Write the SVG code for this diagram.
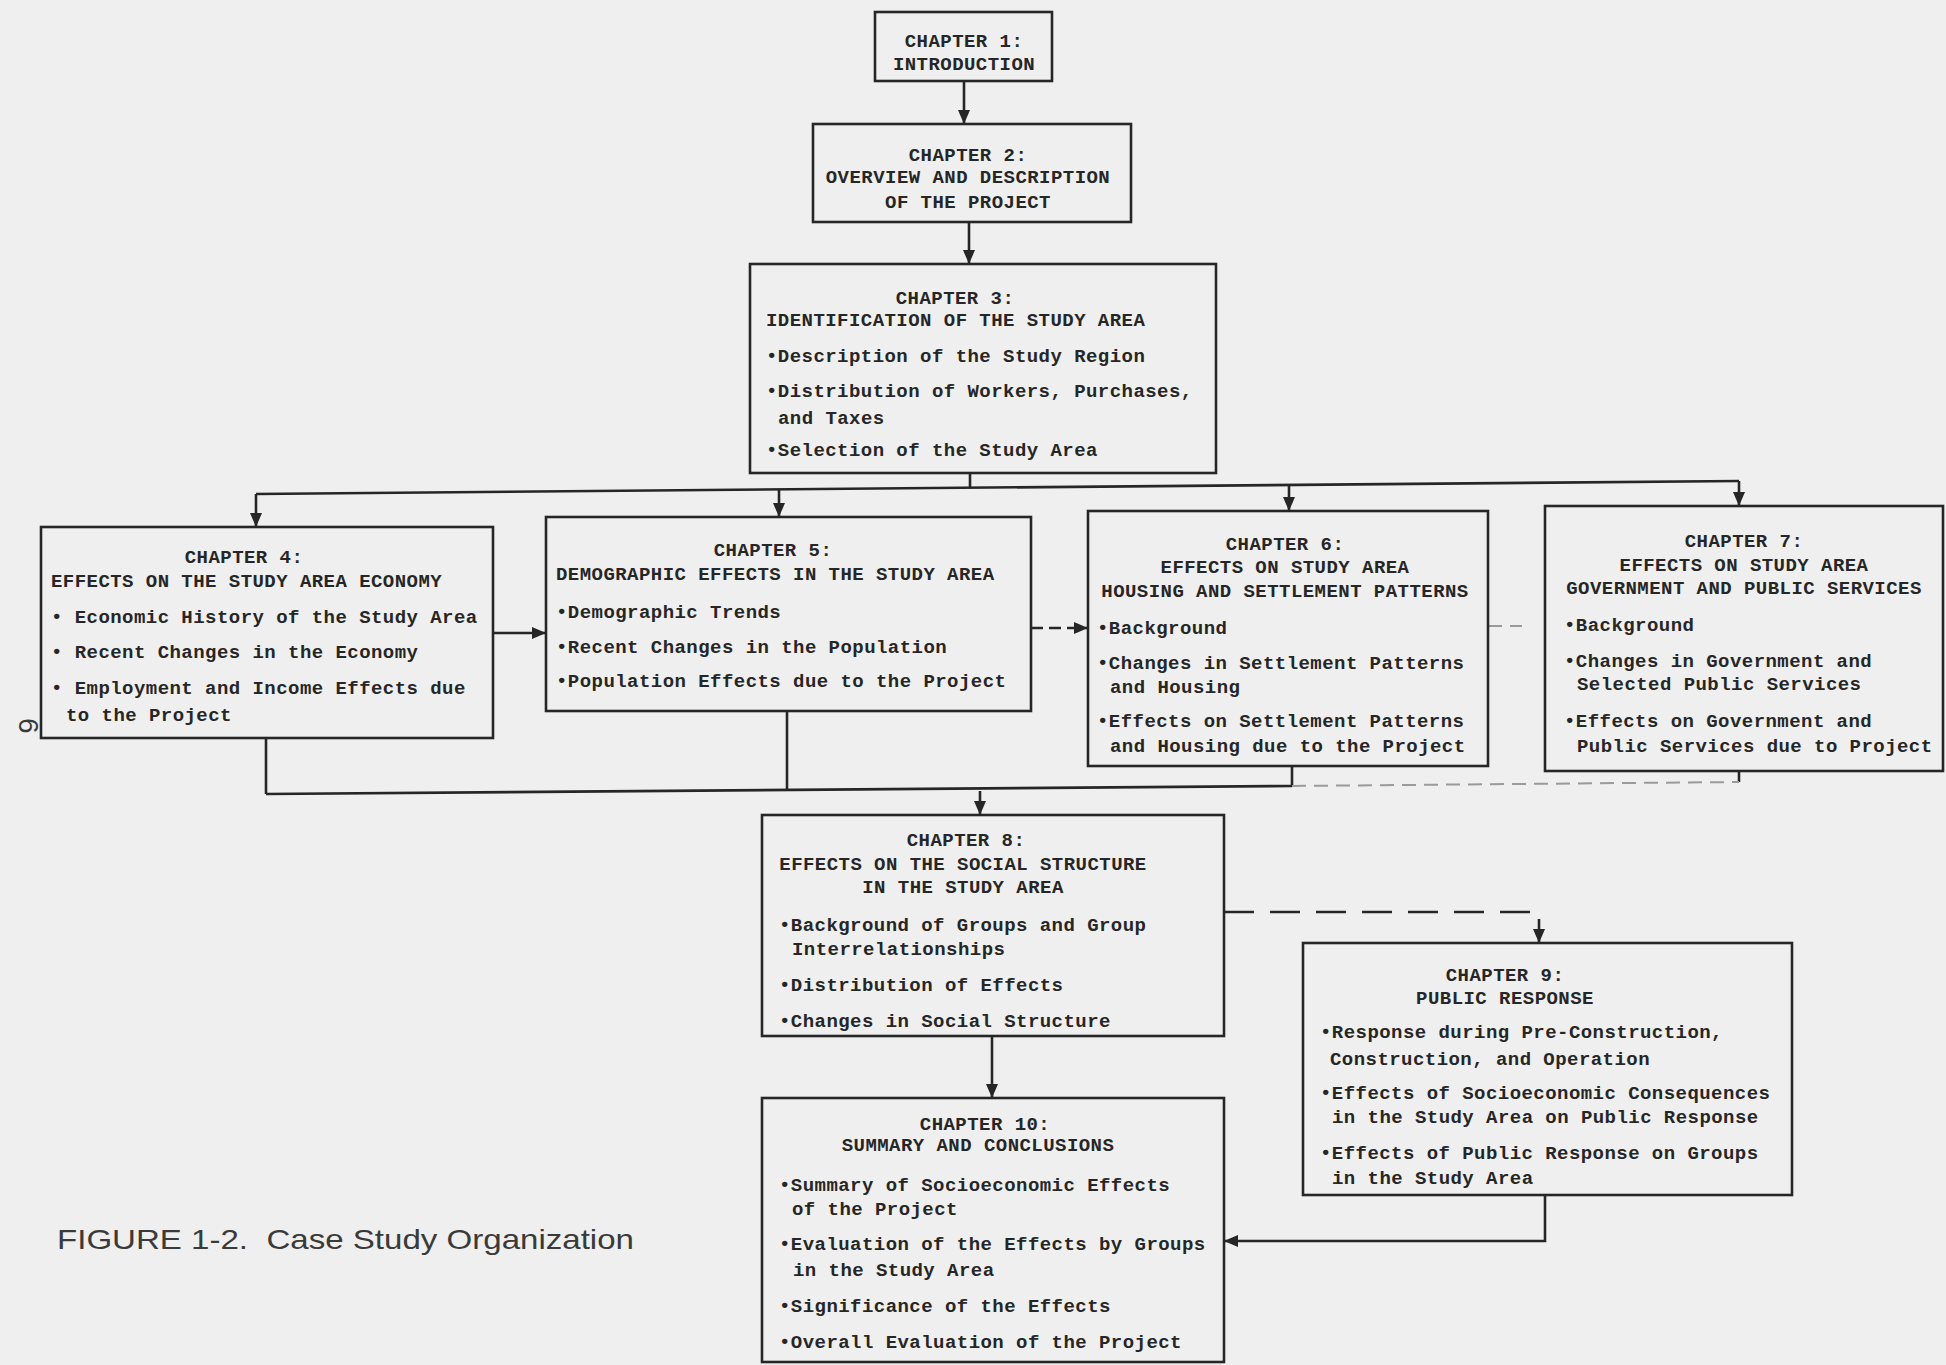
<svg xmlns="http://www.w3.org/2000/svg" width="1946" height="1365" viewBox="0 0 1946 1365">
<style>
.box{fill:none;stroke:#262626;stroke-width:2.6}
.t{font-family:"Liberation Mono",monospace;font-weight:bold;font-size:19px;letter-spacing:0.45px;fill:#262626}
.c{text-anchor:middle}
.ln{fill:none;stroke:#262626;stroke-width:2.6}
.dash{stroke-dasharray:30 16}
.faint{fill:none;stroke:#9a9a9a;stroke-width:2;stroke-dasharray:14 8}
.cap{font-family:"Liberation Sans",sans-serif;font-size:28px;fill:#3a3a3a}
</style>
<defs>
<marker id="ah" markerUnits="userSpaceOnUse" markerWidth="14" markerHeight="12" refX="13" refY="6" orient="auto">
<path d="M0,0 L14,6 L0,12 z" fill="#262626"/>
</marker>
</defs>
<rect width="1946" height="1365" fill="#efefef"/>

<g id="connectors">
<path class="ln" d="M964,81 V123" marker-end="url(#ah)"/>
<path class="ln" d="M969,222 V263" marker-end="url(#ah)"/>
<path class="ln" d="M970,473 V487"/>
<path class="ln" d="M256,494 L1739,481"/>
<path class="ln" d="M256,494 V526" marker-end="url(#ah)"/>
<path class="ln" d="M779,490 V516" marker-end="url(#ah)"/>
<path class="ln" d="M1289,486 V510" marker-end="url(#ah)"/>
<path class="ln" d="M1739,481 V505" marker-end="url(#ah)"/>
<path class="ln" d="M493,633 H545" marker-end="url(#ah)"/>
<path class="ln" d="M1031,628 H1087" stroke-dasharray="12 6" marker-end="url(#ah)"/>
<path class="faint" d="M1488,626 H1522"/>
<path class="ln" d="M266,738 V794"/>
<path class="ln" d="M787,711 V791"/>
<path class="ln" d="M1292,766 V786"/>
<path class="ln" d="M1739,771 V782"/>
<path class="ln" d="M266,794 L1292,786"/>
<path class="faint" d="M1292,786 L1739,782"/>
<path class="ln" d="M980,791 V814" marker-end="url(#ah)"/>
<path class="ln dash" d="M1224,912 H1539 V942" marker-end="url(#ah)"/>
<path class="ln" d="M992,1036 V1097" marker-end="url(#ah)"/>
<path class="ln" d="M1545,1195 V1241 H1225" marker-end="url(#ah)"/>
</g>

<g id="ch1">
<rect class="box" x="875" y="12" width="177" height="69"/>
<text class="t c" x="964" y="47">CHAPTER 1:</text>
<text class="t c" x="964" y="70">INTRODUCTION</text>
</g>

<g id="ch2">
<rect class="box" x="813" y="124" width="318" height="98"/>
<text class="t c" x="968" y="161">CHAPTER 2:</text>
<text class="t c" x="968" y="183">OVERVIEW AND DESCRIPTION</text>
<text class="t c" x="968" y="208">OF THE PROJECT</text>
</g>

<g id="ch3">
<rect class="box" x="750" y="264" width="466" height="209"/>
<text class="t c" x="955" y="304">CHAPTER 3:</text>
<text class="t" x="766" y="326">IDENTIFICATION OF THE STUDY AREA</text>
<text class="t" x="766" y="362">•Description of the Study Region</text>
<text class="t" x="766" y="397">•Distribution of Workers, Purchases,</text>
<text class="t" x="778" y="424">and Taxes</text>
<text class="t" x="766" y="456">•Selection of the Study Area</text>
</g>

<g id="ch4">
<rect class="box" x="41" y="527" width="452" height="211"/>
<text class="t c" x="244" y="563">CHAPTER 4:</text>
<text class="t" x="51" y="587">EFFECTS ON THE STUDY AREA ECONOMY</text>
<text class="t" x="51" y="623">• Economic History of the Study Area</text>
<text class="t" x="51" y="658">• Recent Changes in the Economy</text>
<text class="t" x="51" y="694">• Employment and Income Effects due</text>
<text class="t" x="66" y="721">to the Project</text>
</g>

<g id="ch5">
<rect class="box" x="546" y="517" width="485" height="194"/>
<text class="t c" x="773" y="556">CHAPTER 5:</text>
<text class="t" x="556" y="580">DEMOGRAPHIC EFFECTS IN THE STUDY AREA</text>
<text class="t" x="556" y="618">•Demographic Trends</text>
<text class="t" x="556" y="653">•Recent Changes in the Population</text>
<text class="t" x="556" y="687">•Population Effects due to the Project</text>
</g>

<g id="ch6">
<rect class="box" x="1088" y="511" width="400" height="255"/>
<text class="t c" x="1285" y="550">CHAPTER 6:</text>
<text class="t c" x="1285" y="573">EFFECTS ON STUDY AREA</text>
<text class="t c" x="1285" y="597">HOUSING AND SETTLEMENT PATTERNS</text>
<text class="t" x="1097" y="634">•Background</text>
<text class="t" x="1097" y="669">•Changes in Settlement Patterns</text>
<text class="t" x="1110" y="693">and Housing</text>
<text class="t" x="1097" y="727">•Effects on Settlement Patterns</text>
<text class="t" x="1110" y="752">and Housing due to the Project</text>
</g>

<g id="ch7">
<rect class="box" x="1545" y="506" width="398" height="265"/>
<text class="t c" x="1744" y="547">CHAPTER 7:</text>
<text class="t c" x="1744" y="571">EFFECTS ON STUDY AREA</text>
<text class="t c" x="1744" y="594">GOVERNMENT AND PUBLIC SERVICES</text>
<text class="t" x="1564" y="631">•Background</text>
<text class="t" x="1564" y="667">•Changes in Government and</text>
<text class="t" x="1577" y="690">Selected Public Services</text>
<text class="t" x="1564" y="727">•Effects on Government and</text>
<text class="t" x="1577" y="752">Public Services due to Project</text>
</g>

<g id="ch8">
<rect class="box" x="762" y="815" width="462" height="221"/>
<text class="t c" x="966" y="846">CHAPTER 8:</text>
<text class="t c" x="963" y="870">EFFECTS ON THE SOCIAL STRUCTURE</text>
<text class="t c" x="963" y="893">IN THE STUDY AREA</text>
<text class="t" x="779" y="931">•Background of Groups and Group</text>
<text class="t" x="792" y="955">Interrelationships</text>
<text class="t" x="779" y="991">•Distribution of Effects</text>
<text class="t" x="779" y="1027">•Changes in Social Structure</text>
</g>

<g id="ch9">
<rect class="box" x="1303" y="943" width="489" height="252"/>
<text class="t c" x="1505" y="981">CHAPTER 9:</text>
<text class="t c" x="1505" y="1004">PUBLIC RESPONSE</text>
<text class="t" x="1320" y="1038">•Response during Pre-Construction,</text>
<text class="t" x="1330" y="1065">Construction, and Operation</text>
<text class="t" x="1320" y="1099">•Effects of Socioeconomic Consequences</text>
<text class="t" x="1332" y="1123">in the Study Area on Public Response</text>
<text class="t" x="1320" y="1159">•Effects of Public Response on Groups</text>
<text class="t" x="1332" y="1184">in the Study Area</text>
</g>

<g id="ch10">
<rect class="box" x="762" y="1098" width="462" height="264"/>
<text class="t c" x="985" y="1130">CHAPTER 10:</text>
<text class="t c" x="978" y="1151">SUMMARY AND CONCLUSIONS</text>
<text class="t" x="779" y="1191">•Summary of Socioeconomic Effects</text>
<text class="t" x="792" y="1215">of the Project</text>
<text class="t" x="779" y="1250">•Evaluation of the Effects by Groups</text>
<text class="t" x="793" y="1276">in the Study Area</text>
<text class="t" x="779" y="1312">•Significance of the Effects</text>
<text class="t" x="779" y="1348">•Overall Evaluation of the Project</text>
</g>

<g id="caption">
<text class="cap" x="57" y="1249" textLength="577" lengthAdjust="spacingAndGlyphs" style="white-space:pre">FIGURE 1-2.  Case Study Organization</text>
<text class="cap" x="0" y="0" font-size="20" transform="translate(19,718) rotate(90)">6</text>
</g>
</svg>
